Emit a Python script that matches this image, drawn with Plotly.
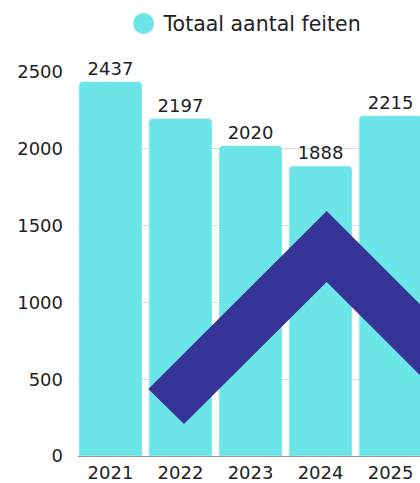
import plotly.graph_objects as go

years = ["2021", "2022", "2023", "2024", "2025"]
totals = [2437, 2197, 2020, 1888, 2215]
series_name = "Totaal aantal feiten"
y_ticks = [0, 500, 1000, 1500, 2000, 2500]

BAR = "#6ce5e8"
DARK = "#363597"
TXT = "#222222"
FONT = "DejaVu Sans"

W, H = 420, 483
L, R, T, B = 78, 0, 72, 27
pw, ph = W - L - R, H - T - B

def px(x, y):
    return (x - L) / pw, (H - B - y) / ph

fig = go.Figure()
fig.add_trace(go.Bar(
    x=years, y=totals, marker_color=BAR, width=0.9,
    text=[str(v) for v in totals], textposition="outside",
    textfont=dict(size=18, color=TXT, family=FONT),
    cliponaxis=False, showlegend=False, hoverinfo="skip",
))
fig.add_trace(go.Scatter(
    x=[None], y=[None], mode="markers", name=series_name,
    marker=dict(color=BAR, size=16, symbol="circle", line=dict(color=BAR, width=5)),
    showlegend=True,
))

# decorative chevron shape
pts = [(148.3, 389), (326.7, 211), (420, 304.3), (420, 375.3), (326.7, 282), (184, 424)]
path = "M " + " L ".join(f"{px(a,b)[0]:.4f},{px(a,b)[1]:.4f}" for a, b in pts) + " Z"
fig.add_shape(type="path", path=path, xref="paper", yref="paper",
              fillcolor=DARK, line=dict(width=0), layer="above")

fig.update_layout(
    width=W, height=H, margin=dict(l=L, r=R, t=T, b=B),
    plot_bgcolor="white", paper_bgcolor="white",
    font=dict(family=FONT, color=TXT, size=18),
    bargap=0.1, barcornerradius=4,
    legend=dict(orientation="h", x=0.49, xanchor="center", y=1.178, yanchor="top",
                font=dict(size=20.5, color=TXT), itemsizing="trace"),
    xaxis=dict(range=[-0.464, 4.42], showline=True, linecolor="#999999", linewidth=1,
               ticks="", tickfont=dict(size=18), showgrid=False, automargin=False),
    yaxis=dict(range=[0, 2500], tickvals=y_ticks, showgrid=True, gridcolor="#d9d9d9",
               gridwidth=1, zeroline=False, ticks="", tickfont=dict(size=18),
               ticklabelstandoff=14, automargin=False),
)
fig.write_html("out.html", config={"displayModeBar": False},
               post_script="document.body.style.margin='0';")
